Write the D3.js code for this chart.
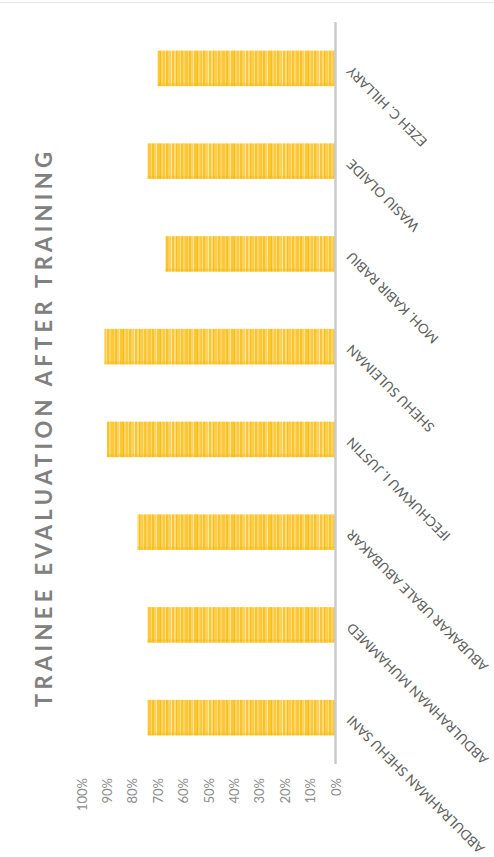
<!DOCTYPE html>
<html><head><meta charset="utf-8">
<script src="https://cdn.jsdelivr.net/npm/d3@7"></script>
<style>html,body{margin:0;padding:0;background:#fff;}svg{display:block;}</style>
</head><body>
<script>
const categories = ["EZEH C. HILLARY","WASIU OLAIDE","MOH. KABIR RABIU","SHEHU SULEIMAN","IFECHUKWU I. JUSTIN","ABUBAKAR UBALE ABUBAKAR","ABDULRAHMAN MUHAMMED","ABDULRAHMAN SHEHU SANI"];
const values = [0.70,0.74,0.67,0.91,0.90,0.78,0.74,0.74];
const tickValues = [0,0.1,0.2,0.3,0.4,0.5,0.6,0.7,0.8,0.9,1.0];
const title = "TRAINEE EVALUATION AFTER TRAINING";

const W=494,H=857;
const svg=d3.select("body").append("svg").attr("width",W).attr("height",H);

// stripe pattern (texture only)
const stripes=[["#fcc83a",3],["#fdd877",1],["#f9c226",2],["#fdd262",2],["#fee49c",1],["#fbc733",3],["#f7be14",1],["#fdd46a",2],["#fcca40",2],["#fddf88",1],["#f9c42a",2],["#fdd15c",3],["#fee9ac",1],["#fbc636",2],["#fdda7c",2],["#f8c01c",1],["#fccd48",3],["#fddd84",1],["#fac52e",2],["#fdd468",2]];
const pw=d3.sum(stripes,d=>d[1]);
const defs=svg.append("defs");
const pat=defs.append("pattern").attr("id","stripe").attr("patternUnits","userSpaceOnUse").attr("width",pw).attr("height",100);
let off=0;
stripes.forEach(s=>{pat.append("rect").attr("x",off).attr("y",0).attr("width",s[1]).attr("height",100).attr("fill",s[0]);off+=s[1];});

const x=d3.scaleLinear().domain([0,1]).range([335.5,81.5]);
const y=d3.scaleBand().domain(categories).range([22,764]).paddingInner(0.617).paddingOuter(0.3085);

// top border line
svg.append("line").attr("x1",0).attr("x2",W).attr("y1",2.5).attr("y2",2.5).attr("stroke","#e6e6e6").attr("stroke-width",1);

// bars
const g=svg.append("g");
g.selectAll("rect.bar").data(categories).join("rect").attr("class","bar")
  .attr("x",(d,i)=>x(values[i])).attr("y",d=>y(d))
  .attr("width",(d,i)=>x(0)-x(values[i])).attr("height",y.bandwidth())
  .attr("fill","url(#stripe)");
g.selectAll("rect.shade").data(categories).join("rect").attr("class","shade")
  .attr("x",(d,i)=>x(values[i])).attr("y",d=>y(d)+y.bandwidth()-3)
  .attr("width",(d,i)=>x(0)-x(values[i])).attr("height",3)
  .attr("fill","#f2b400").attr("opacity",0.3);

// category axis line
svg.append("line").attr("x1",x(0)).attr("x2",x(0)).attr("y1",22).attr("y2",764)
  .attr("stroke","#cbcbcb").attr("stroke-width",2.5);

// category labels
svg.append("g").selectAll("text").data(categories).join("text")
  .attr("transform",d=>`translate(${x(0)+17},${y(d)+y.bandwidth()/2-3}) rotate(225)`)
  .attr("text-anchor","end")
  .attr("font-family","Lato, 'Open Sans', sans-serif").attr("font-size",13.5)
  .attr("fill","#5f5f5f").text(d=>d);

// value axis tick labels
const xa=d3.axisBottom(x).tickValues(tickValues).tickFormat(d3.format(".0%")).tickSize(0);
const ag=svg.append("g").attr("transform","translate(0,778)").call(xa);
ag.select(".domain").remove();
ag.selectAll("text").attr("transform","rotate(-90)").attr("text-anchor","end")
  .attr("x",0).attr("y",0).attr("dx",0).attr("dy","0.35em")
  .attr("font-family","Lato, 'Open Sans', sans-serif").attr("font-size",13).attr("fill","#8c8c8c");

// title
svg.append("text").attr("transform","translate(51.5,429.5) rotate(-90)")
  .attr("text-anchor","middle").attr("font-family","Lato, 'Open Sans', sans-serif")
  .attr("font-weight","bold").attr("font-size",22).attr("fill","#808080")
  .attr("textLength",555).attr("lengthAdjust","spacing").text(title);
</script>
</body></html>
